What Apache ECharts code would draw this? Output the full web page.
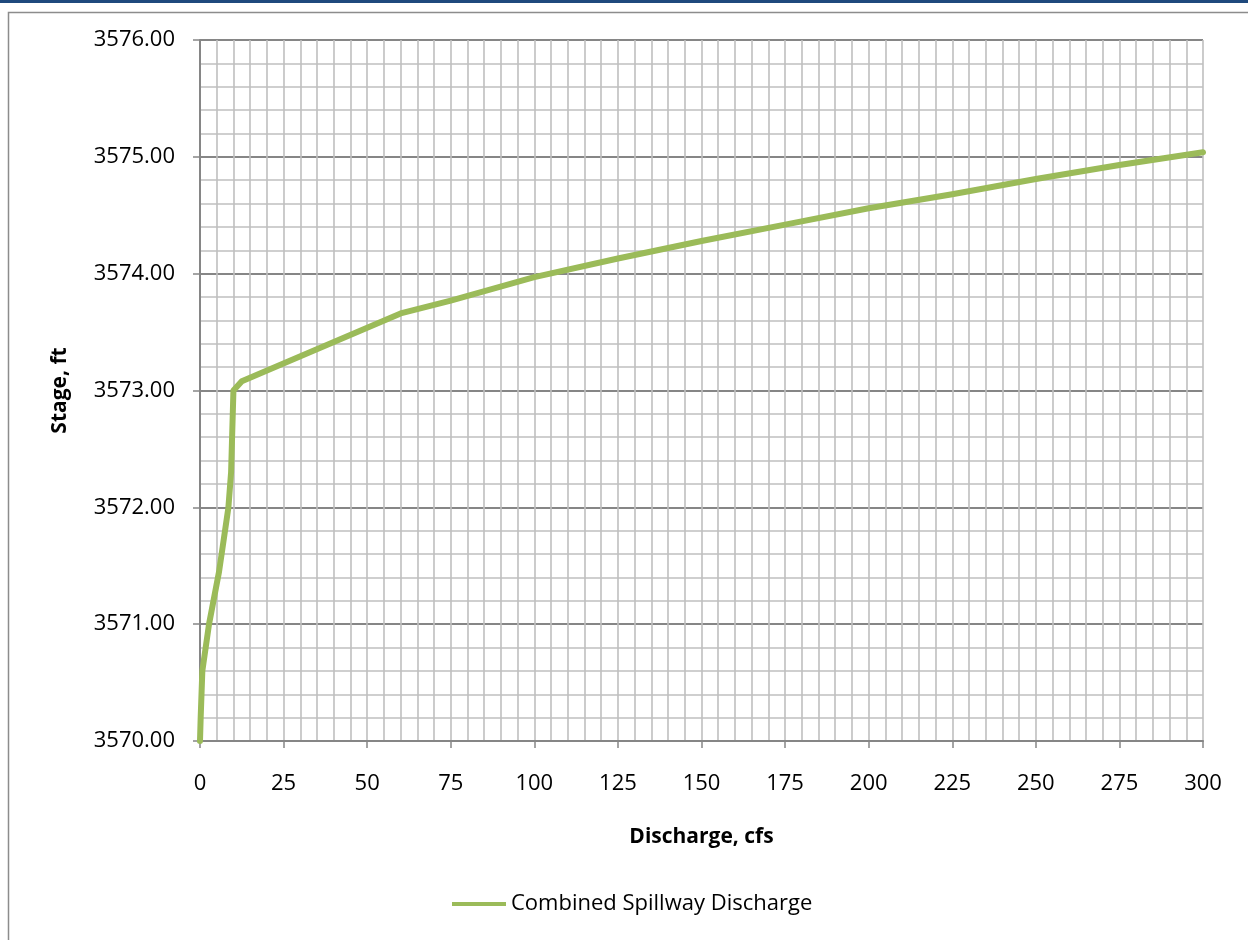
<!DOCTYPE html>
<html>
<head>
<meta charset="utf-8">
<style>
  html, body { margin: 0; padding: 0; background: #ffffff; }
  #chart { width: 1248px; height: 940px; }
</style>
<script src="https://cdn.jsdelivr.net/npm/echarts@6/dist/echarts.min.js"></script>
</head>
<body>
<div id="chart"></div>
<script>
// Spillway rating curve: discharge (cfs) against reservoir stage (ft)
const seriesName = 'Combined Spillway Discharge';
const discharge = [0, 0.2, 0.7, 2.7, 5.7, 8.5, 9.3, 10, 12.5, 60, 75, 100, 125, 150, 175, 200, 225, 250, 275, 300];
const stage = [3570.0, 3570.2, 3570.6, 3571.0, 3571.45, 3572.0, 3572.3, 3573.0, 3573.08, 3573.66, 3573.77, 3573.97, 3574.13, 3574.28, 3574.42, 3574.56, 3574.68, 3574.81, 3574.93, 3575.04];
const xTicks = [0, 300, 25];        // min, max, interval
const yTicks = [3570, 3576, 1];     // min, max, interval
const xTitle = 'Discharge, cfs';
const yTitle = 'Stage, ft';

const FONT = '"Open Sans", "Liberation Sans", sans-serif';
const MAJOR = '#868686';
const MINOR = '#bfbfbf';

const chart = echarts.init(document.getElementById('chart'), null, { renderer: 'canvas' });

chart.setOption({
  backgroundColor: '#ffffff',
  animation: false,
  graphic: [
    { type: 'rect', shape: { x: 0, y: 0, width: 1248, height: 3 }, style: { fill: '#1f497d' } },
    { type: 'rect', shape: { x: 8.5, y: 12.5, width: 1300, height: 1000 },
      style: { fill: 'none', stroke: '#8c8c8c', lineWidth: 1.5 } }
  ],
  grid: { left: 200, top: 40, right: 45, bottom: 199, containLabel: false },
  legend: {
    left: 452, top: 893, padding: 0,
    icon: 'rect', itemWidth: 54, itemHeight: 4,
    textStyle: { fontFamily: FONT, fontSize: 22, color: '#000' },
    data: [seriesName]
  },
  xAxis: {
    type: 'value',
    min: xTicks[0], max: xTicks[1], interval: xTicks[2],
    name: xTitle, nameLocation: 'middle', nameGap: 86,
    nameTextStyle: { fontFamily: FONT, fontSize: 21, fontWeight: 'bold', color: '#000' },
    axisLine: { show: true, lineStyle: { color: MAJOR, width: 2 } },
    axisTick: { show: true, length: 7, lineStyle: { color: MAJOR, width: 1.5 } },
    axisLabel: { fontFamily: FONT, fontSize: 22, color: '#000', margin: 32 },
    splitLine: { show: true, lineStyle: { color: MINOR, width: 1.6 } },
    minorTick: { show: false, splitNumber: 5 },
    minorSplitLine: { show: true, lineStyle: { color: MINOR, width: 1.6 } }
  },
  yAxis: {
    type: 'value',
    min: yTicks[0], max: yTicks[1], interval: yTicks[2],
    name: yTitle, nameLocation: 'middle', nameGap: 129, nameRotate: 90,
    nameTextStyle: { fontFamily: FONT, fontSize: 21, fontWeight: 'bold', color: '#000' },
    axisLine: { show: true, lineStyle: { color: MAJOR, width: 2 } },
    axisTick: { show: true, length: 7, lineStyle: { color: MAJOR, width: 1.5 } },
    axisLabel: { fontFamily: FONT, fontSize: 22, color: '#000', margin: 25,
                 formatter: v => v.toFixed(2) },
    splitLine: { show: true, lineStyle: { color: MAJOR, width: 2 } },
    minorTick: { show: false, splitNumber: 5 },
    minorSplitLine: { show: true, lineStyle: { color: MINOR, width: 1.6 } }
  },
  series: [{
    name: seriesName,
    type: 'line',
    color: '#9bbb59',
    symbol: 'none',
    smooth: false,
    z: 5,
    lineStyle: { width: 6, color: '#9bbb59', join: 'round', cap: 'round' },
    data: discharge.map((d, i) => [d, stage[i]])
  }]
});
</script>
</body>
</html>
